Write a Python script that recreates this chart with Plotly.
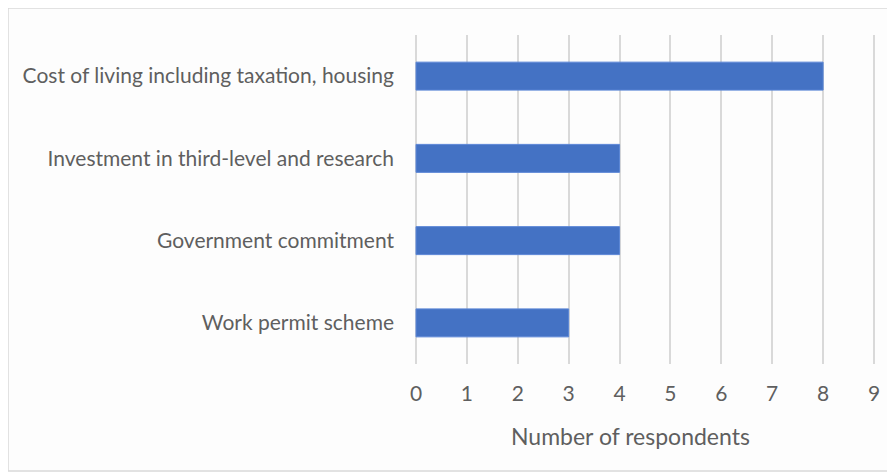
import plotly.graph_objects as go

categories = ["Cost of living including taxation, housing",
              "Investment in third-level and research",
              "Government commitment",
              "Work permit scheme"]
values = [8, 4, 4, 3]
x_ticks = list(range(0, 10))
x_title = "Number of respondents"

# page body has an 8px margin, so the figure starts at (8, 8)
W, H = 886, 464
L, R, T, B = 407, 19, 27, 108
pw, ph = W - L - R, H - T - B

fig = go.Figure(go.Bar(
    y=categories, x=values, orientation="h",
    marker=dict(color="#4472C4", line=dict(color="#5b86d6", width=1)),
    width=0.34,
))

font = dict(family="Lato, Liberation Sans, Arial, sans-serif", size=21, color="#5f5f5f")

fig.update_layout(
    width=W, height=H,
    margin=dict(l=L, r=R, t=T, b=B),
    paper_bgcolor="#fdfdfd", plot_bgcolor="#fdfdfd",
    font=font,
    showlegend=False,
    xaxis=dict(range=[-0.02, 9.02], tickvals=x_ticks, showgrid=True, gridcolor="#d9d9d9",
               gridwidth=1.5, zeroline=False, showline=False,
               ticklabelstandoff=15, fixedrange=True),
    yaxis=dict(categoryorder="array", categoryarray=categories[::-1],
               showgrid=False, zeroline=False, showline=False,
               ticklabelstandoff=20, fixedrange=True),
    annotations=[dict(text=x_title, xref="paper", yref="paper",
                      x=(622 - L) / pw, y=(T + ph - 428) / ph,
                      xanchor="center", yanchor="middle", showarrow=False,
                      font=dict(family=font["family"], size=23, color="#5f5f5f"))],
    shapes=[dict(type="rect", xref="paper", yref="paper",
                 x0=(0 - L) / pw, x1=(884 - L) / pw,
                 y0=(T + ph - 463) / ph, y1=(T + ph - 0) / ph,
                 line=dict(color="#d9d9d9", width=1.5), layer="below")],
)

fig.write_html("out.html")
